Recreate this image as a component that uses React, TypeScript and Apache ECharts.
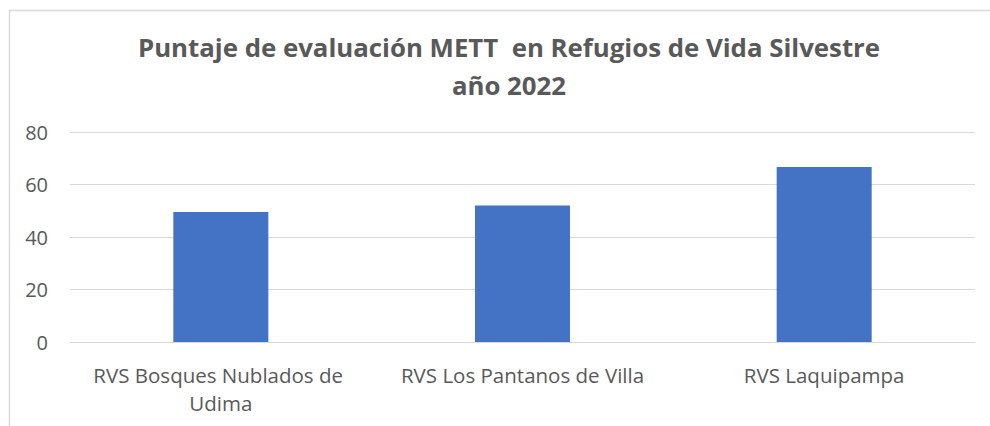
import React, { useEffect, useRef } from "react";
import * as echarts from "echarts";

const titleLines = ["Puntaje de evaluación METT  en Refugios de Vida Silvestre", "año 2022"];
const categories = ["RVS Bosques Nublados de Udima", "RVS Los Pantanos de Villa", "RVS Laquipampa"];
const values = [49.5, 52, 66.7];
const yTicks = { min: 0, max: 80, interval: 20 };

const FONT = "'Open Sans', sans-serif";

export default function App() {
  const ref = useRef<HTMLDivElement>(null);
  useEffect(() => {
    if (!ref.current) return;
    const chart = echarts.init(ref.current, undefined, { renderer: "svg" });
    chart.setOption({
      animation: false,
      backgroundColor: "#ffffff",
      textStyle: { fontFamily: FONT },
      title: {
        text: titleLines.join("\n"),
        left: 504,
        textAlign: "center",
        top: 23,
        textStyle: {
          fontFamily: FONT,
          fontSize: 25.8,
          fontWeight: "bold",
          color: "#595959",
          lineHeight: 38,
        },
      },
      graphic: [
        {
          type: "rect",
          shape: { x: 9.5, y: 10.5, width: 1000, height: 500 },
          style: { fill: "none", stroke: "#d9d9d9", lineWidth: 1.5 },
          silent: true,
          z: -1,
        },
      ],
      grid: { left: 70, right: 15, top: 132, bottom: 84, containLabel: false },
      xAxis: {
        type: "category",
        data: categories,
        axisLine: { show: true, lineStyle: { color: "#d9d9d9", width: 1.2 } },
        axisTick: { show: false },
        axisLabel: {
          color: "#595959",
          fontFamily: FONT,
          fontSize: 20.5,
          lineHeight: 28,
          margin: 19,
          width: 290,
          overflow: "break",
          interval: 0,
        },
      },
      yAxis: {
        type: "value",
        min: yTicks.min,
        max: yTicks.max,
        interval: yTicks.interval,
        axisLine: { show: false },
        axisTick: { show: false },
        splitLine: { lineStyle: { color: "#d9d9d9", width: 1.2 } },
        axisLabel: { color: "#595959", fontFamily: FONT, fontSize: 20, margin: 22 },
      },
      series: [
        {
          type: "bar",
          data: values,
          barWidth: "31.5%",
          itemStyle: { color: "#4472c4" },
        },
      ],
    });
    return () => chart.dispose();
  }, []);
  return (
    <div
      ref={ref}
      style={{ position: "absolute", left: 0, top: 0, width: 990, height: 426 }}
    />
  );
}
